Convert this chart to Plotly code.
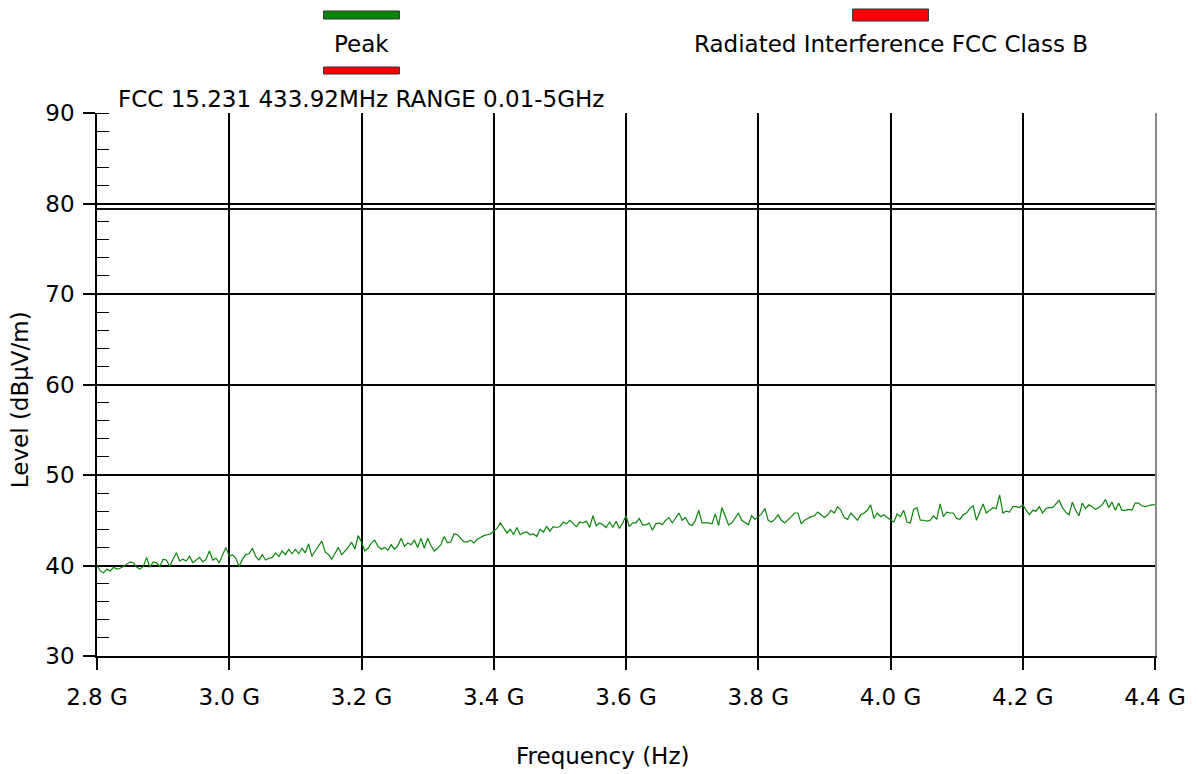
import plotly.graph_objects as go

# ---------------- data ----------------
f_start_ghz = 2.8
f_step_ghz = 0.005

peak_2800_3200 = [
    40.05, 39.4, 39.2, 39.6, 39.4, 39.8, 39.6, 39.7, 39.9, 40.2,
    40.4, 40.3, 39.8, 39.6, 39.9, 40.9, 39.8, 40.4, 40.3, 39.9,
    40.7, 40.6, 39.9, 40.7, 41.4, 40.5, 40.7, 40.5, 41.0, 40.3,
    40.6, 40.9, 40.4, 40.7, 41.6, 40.6, 40.8, 40.3, 41.2, 42.0,
    41.0, 41.2, 40.8, 39.9, 40.7, 41.2, 41.3, 41.9, 41.0, 40.6,
    41.2, 40.6, 40.8, 40.9, 41.4, 41.0, 41.6, 41.2, 41.8, 41.3,
    41.8, 41.3, 41.9, 41.4, 42.4, 41.0, 41.6, 42.1, 42.7, 41.5,
    41.2, 40.7, 41.3, 42.0, 41.2, 41.6, 42.0, 42.6, 41.8, 43.3,
]
peak_3200_3600 = [
    42.6, 41.6, 41.9, 42.5, 42.8, 42.1, 41.8, 42.0, 41.7, 42.3,
    41.8, 42.2, 43.0, 42.1, 42.5, 42.3, 42.8, 42.0, 43.0, 41.9,
    43.0, 42.2, 41.6, 41.9, 42.3, 43.2, 42.5, 42.6, 43.5, 43.4,
    43.0, 42.6, 42.6, 42.8, 42.5, 42.9, 43.1, 43.3, 43.4, 43.5,
    43.8, 44.1, 44.7, 44.1, 43.6, 44.0, 43.4, 44.2, 43.4, 43.6,
    43.7, 43.4, 43.5, 43.2, 44.0, 43.7, 44.3, 43.8, 44.3, 44.2,
    44.3, 44.8, 44.6, 45.0, 44.6, 44.3, 44.8, 44.7, 44.9, 44.2,
    45.5, 44.4, 44.7, 44.5, 44.2, 44.8, 44.2, 44.9, 44.1, 44.7,
]
peak_3600_4000 = [
    45.5, 44.3, 44.7, 44.7, 45.2, 44.5, 44.5, 44.7, 43.9, 44.6,
    44.7, 44.5, 45.0, 45.3, 44.7, 45.3, 45.8, 45.0, 45.3, 44.6,
    44.4, 45.0, 46.1, 44.7, 44.7, 44.7, 44.6, 45.7, 44.4, 46.4,
    45.5, 44.5, 44.7, 45.3, 45.8, 45.0, 44.7, 44.5, 45.5, 45.1,
    45.4, 45.7, 46.3, 45.0, 44.8, 45.1, 45.6, 45.0, 44.7, 45.0,
    45.4, 45.8, 45.8, 44.6, 45.0, 45.2, 45.4, 45.5, 45.9, 45.6,
    45.3, 45.6, 46.1, 45.8, 46.5, 46.1, 45.3, 45.1, 45.8, 45.4,
    45.0, 45.6, 45.8, 46.1, 46.7, 45.2, 45.8, 45.4, 45.6, 45.3,
]
peak_4000_4400 = [
    45.0, 44.8, 45.7, 45.4, 46.1, 44.8, 44.7, 46.2, 46.4, 45.0,
    45.0, 44.9, 45.0, 45.5, 45.1, 46.8, 45.4, 45.9, 45.8, 45.8,
    45.2, 45.1, 45.6, 45.8, 46.3, 46.6, 45.0, 45.9, 46.8, 45.8,
    46.1, 46.4, 46.3, 47.8, 45.8, 46.0, 45.9, 46.5, 46.5, 46.4,
    46.7, 46.1, 45.6, 46.1, 46.0, 46.5, 45.8, 46.3, 46.4, 46.4,
    46.8, 47.2, 46.4, 45.9, 45.6, 47.0, 46.1, 45.5, 46.9, 46.3,
    46.7, 46.5, 46.2, 46.4, 46.7, 47.3, 46.4, 47.0, 46.1, 46.9,
    46.1, 46.1, 46.2, 46.1, 46.9, 46.9, 46.6, 46.5, 46.6, 46.7,
    46.7,
]
peak_levels = peak_2800_3200 + peak_3200_3600 + peak_3600_4000 + peak_4000_4400
freq_hz = [(f_start_ghz + i * f_step_ghz) * 1e9 for i in range(len(peak_levels))]

limit_name = "Radiated Interference FCC Class B"
limit_freq_hz = [2.8e9, 4.4e9]
limit_level = [79.4, 79.4]

x_tick_vals = [2.8e9, 3.0e9, 3.2e9, 3.4e9, 3.6e9, 3.8e9, 4.0e9, 4.2e9, 4.4e9]
x_tick_text = ["2.8 G", "3.0 G", "3.2 G", "3.4 G", "3.6 G", "3.8 G", "4.0 G", "4.2 G", "4.4 G"]
y_tick_vals = [30, 40, 50, 60, 70, 80, 90]
y_grid_vals = [40, 50, 60, 70, 80]

chart_title = "FCC 15.231 433.92MHz RANGE 0.01-5GHz"
x_title = "Frequency (Hz)"
y_title = "Level (dBµV/m)"

# ---------------- figure ----------------
FONT = "DejaVu Sans, Verdana, sans-serif"
FS = 23
W, H = 1198, 774
L, R, T, B = 97, 41, 113, 118
PW, PH = W - L - R, H - T - B


def px(x):
    return (x - L) / PW


def py(y):
    return (H - B - y) / PH


fig = go.Figure()
fig.add_trace(go.Scatter(x=limit_freq_hz, y=limit_level, mode="lines",
                         line=dict(color="#111111", width=2), name=limit_name,
                         showlegend=False, hoverinfo="skip"))
fig.add_trace(go.Scatter(x=freq_hz, y=peak_levels, mode="lines",
                         line=dict(color="#0a850a", width=1.2), name="Peak",
                         showlegend=False))
# helper trace to activate yaxis2 (horizontal grid + right border)
fig.add_trace(go.Scatter(x=[None], y=[None], yaxis="y2", showlegend=False, hoverinfo="skip"))

fig.update_layout(
    width=W, height=H,
    margin=dict(l=L, r=R, t=T, b=B, pad=0),
    paper_bgcolor="white", plot_bgcolor="white",
    font=dict(family=FONT, size=FS, color="black"),
    showlegend=False,
    xaxis=dict(range=[2.8e9, 4.4e9], tickvals=x_tick_vals, ticktext=x_tick_text,
               showgrid=True, gridcolor="black", gridwidth=1.5,
               showline=True, linecolor="black", linewidth=1.5,
               ticks="outside", ticklen=12, tickwidth=1.5, tickcolor="black",
               ticklabelstandoff=8, zeroline=False,
               tickfont=dict(family=FONT, size=FS, color="black")),
    yaxis=dict(range=[30, 90], tickvals=y_tick_vals,
               showgrid=False,
               showline=True, linecolor="black", linewidth=1.5,
               ticks="outside", ticklen=12, tickwidth=1.5, tickcolor="black",
               ticklabelstandoff=4, zeroline=False,
               minor=dict(dtick=2, ticks="inside", ticklen=12, tickwidth=1.2,
                          tickcolor="black", showgrid=False),
               tickfont=dict(family=FONT, size=FS, color="black")),
    yaxis2=dict(range=[30, 90], overlaying="y", side="right", showline=True,
                linecolor="#888888", linewidth=2, showticklabels=False,
                tickvals=y_grid_vals, showgrid=True, gridcolor="black", gridwidth=1.5,
                zeroline=False, ticks=""),
)

# legend drawn as boxes + labels
bars = [
    (324, 400, 11, 19, "#0a850a"),
    (324, 400, 67, 74, "#ff0000"),
    (854, 930, 9, 21, "#ff0000"),
]
for x0, x1, y0, y1, c in bars:
    fig.add_shape(type="rect", xref="paper", yref="paper",
                  x0=px(x0), x1=px(x1), y0=py(y1), y1=py(y0),
                  fillcolor=c, line=dict(color="#333333", width=1))

fig.add_annotation(text="Peak", xref="paper", yref="paper", x=px(362), y=py(44),
                   xanchor="center", yanchor="middle", showarrow=False,
                   font=dict(family=FONT, size=FS, color="black"))
fig.add_annotation(text=limit_name, xref="paper", yref="paper", x=px(893), y=py(44),
                   xanchor="center", yanchor="middle", showarrow=False,
                   font=dict(family=FONT, size=FS, color="black"))
fig.add_annotation(text=chart_title, xref="paper", yref="paper", x=px(116), y=py(99),
                   xanchor="left", yanchor="middle", showarrow=False,
                   font=dict(family=FONT, size=FS, color="black"))
fig.add_annotation(text=x_title, xref="paper", yref="paper", x=px(603), y=py(756),
                   xanchor="center", yanchor="middle", showarrow=False,
                   font=dict(family=FONT, size=FS, color="black"))
fig.add_annotation(text=y_title, xref="paper", yref="paper", x=px(20), y=py(400),
                   xanchor="center", yanchor="middle", showarrow=False, textangle=-90,
                   font=dict(family=FONT, size=FS, color="black"))

fig.write_html("out.html")
